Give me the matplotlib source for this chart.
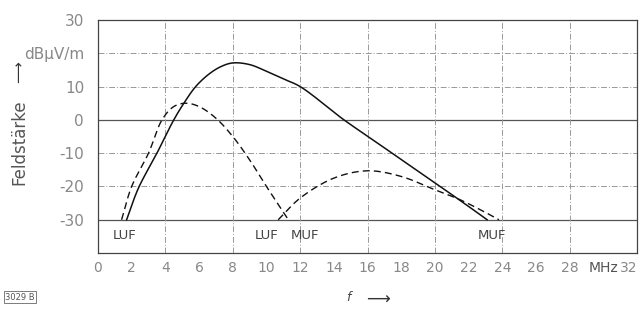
import numpy as np
import matplotlib.pyplot as plt

# solid curve (total field strength)
f_solid = [1.7, 2.4, 3.5, 4.5, 5.1, 5.8, 6.6, 7.3, 8.0, 9.0, 10.0, 11.0, 12.0,
           14.6, 16.0, 18.0, 20.0, 22.0, 23.1]
e_solid = [-30, -20.5, -10, 0, 5, 10, 13.8, 16.0, 17.1, 16.6, 14.6, 12.3, 10,
           0, -4.9, -11.9, -18.9, -26, -30]

# dashed curve, first hop
f_d1 = [1.4, 2.0, 3.0, 3.8, 4.5, 5.2, 6.0, 7.0, 8.0, 9.0, 10.0, 11.3]
e_d1 = [-30, -20, -10, 0, 4, 5, 4, 0.5, -5, -12, -20, -30]

# dashed curve, second mode
f_d2 = [10.7, 12.0, 14.0, 16.0, 18.0, 20.0, 21.5, 23.0, 23.8]
e_d2 = [-30, -23.5, -17.5, -15.3, -17, -21, -24, -27.8, -30]

xticks = [0, 2, 4, 6, 8, 10, 12, 14, 16, 18, 20, 22, 24, 26, 28, 30, 32]
xticklabels = ["0", "2", "4", "6", "8", "10", "12", "14", "16", "18", "20",
               "22", "24", "26", "28", "MHz", "32"]
yticks = [30, 20, 10, 0, -10, -20, -30]
yticklabels = ["30", "dBµV/m", "10", "0", "-10", "-20", "-30"]


def smooth(xs, ys, n=20, yscale=0.2):
    """centripetal catmull-rom through the read points, for drawing only"""
    p = np.column_stack([xs, np.asarray(ys) * yscale]).astype(float)
    p = np.vstack([2 * p[0] - p[1], p, 2 * p[-1] - p[-2]])
    out = []
    for i in range(1, len(p) - 2):
        p0, p1, p2, p3 = p[i - 1], p[i], p[i + 1], p[i + 2]
        t0 = 0.0
        t1 = t0 + np.linalg.norm(p1 - p0) ** 0.5
        t2 = t1 + np.linalg.norm(p2 - p1) ** 0.5
        t3 = t2 + np.linalg.norm(p3 - p2) ** 0.5
        t = np.linspace(t1, t2, n)[:, None]
        a1 = (t1 - t) / (t1 - t0) * p0 + (t - t0) / (t1 - t0) * p1
        a2 = (t2 - t) / (t2 - t1) * p1 + (t - t1) / (t2 - t1) * p2
        a3 = (t3 - t) / (t3 - t2) * p2 + (t - t2) / (t3 - t2) * p3
        b1 = (t2 - t) / (t2 - t0) * a1 + (t - t0) / (t2 - t0) * a2
        b2 = (t3 - t) / (t3 - t1) * a2 + (t - t1) / (t3 - t1) * a3
        c = (t2 - t) / (t2 - t1) * b1 + (t - t1) / (t2 - t1) * b2
        out.append(c if i == 1 else c[1:])
    c = np.vstack(out)
    return c[:, 0], c[:, 1] / yscale


fig = plt.figure(figsize=(6.43, 3.12), dpi=100)
ax = fig.add_axes([0.1524, 0.189, 0.8383, 0.747])

# grid
for y in [20, 10, -10, -20]:
    ax.axhline(y, color="#999999", lw=0.7, ls=(0, (6, 2, 1, 2)), zorder=1)
for y in [0, -30]:
    ax.axhline(y, color="#555555", lw=0.9, zorder=1)
for x in [4, 8, 12, 16, 20, 24, 28]:
    ax.axvline(x, color="#999999", lw=0.7, ls=(0, (6, 2, 1, 2)), zorder=1)

ax.plot(*smooth(f_solid, e_solid), color="#111111", lw=1.1, zorder=3)
ax.plot(*smooth(f_d1, e_d1), color="#111111", lw=1.0, ls=(0, (5, 3)), zorder=3)
ax.plot(*smooth(f_d2, e_d2), color="#111111", lw=1.0, ls=(0, (5, 3)), zorder=3)

ax.set_xlim(0, 32)
ax.set_ylim(-40, 30)
ax.set_xticks(xticks)
ax.set_xticklabels(xticklabels)
ax.set_yticks(yticks)
ax.set_yticklabels(yticklabels)
ax.tick_params(length=0, labelsize=10, colors="#888888", pad=6)
ax.tick_params(axis="y", labelsize=11, pad=10)
ax.get_xticklabels()[-1].set_ha("right")
ax.get_xticklabels()[-2].set_color("#555555")
for s in ax.spines.values():
    s.set_color("#444444")
    s.set_linewidth(0.9)

lab = dict(fontsize=9.5, color="#444444", ha="center", va="center")
ax.text(1.6, -34.8, "LUF", **lab)
ax.text(10.0, -34.8, "LUF", **lab)
ax.text(12.3, -34.8, "MUF", **lab)
ax.text(23.4, -34.8, "MUF", **lab)

fig.text(0.030, 0.545, "Feldstärke", rotation=90, fontsize=12,
         color="#555555", ha="center", va="center")
fig.text(0.030, 0.765, "$\\longrightarrow$", rotation=90, fontsize=11,
         color="#333333", ha="center", va="center")
fig.text(0.545, 0.048, "$f$", fontsize=9, color="#444444", ha="center", va="center")
fig.text(0.587, 0.045, "$\\longrightarrow$", fontsize=12, color="#333333",
         ha="center", va="center")
fig.text(0.008, 0.048, "3029 B", fontsize=6, color="#555555", ha="left",
         va="center", bbox=dict(boxstyle="square,pad=0.15", fc="white",
                                ec="#666666", lw=0.6))

fig.savefig("out.png", dpi=100)
